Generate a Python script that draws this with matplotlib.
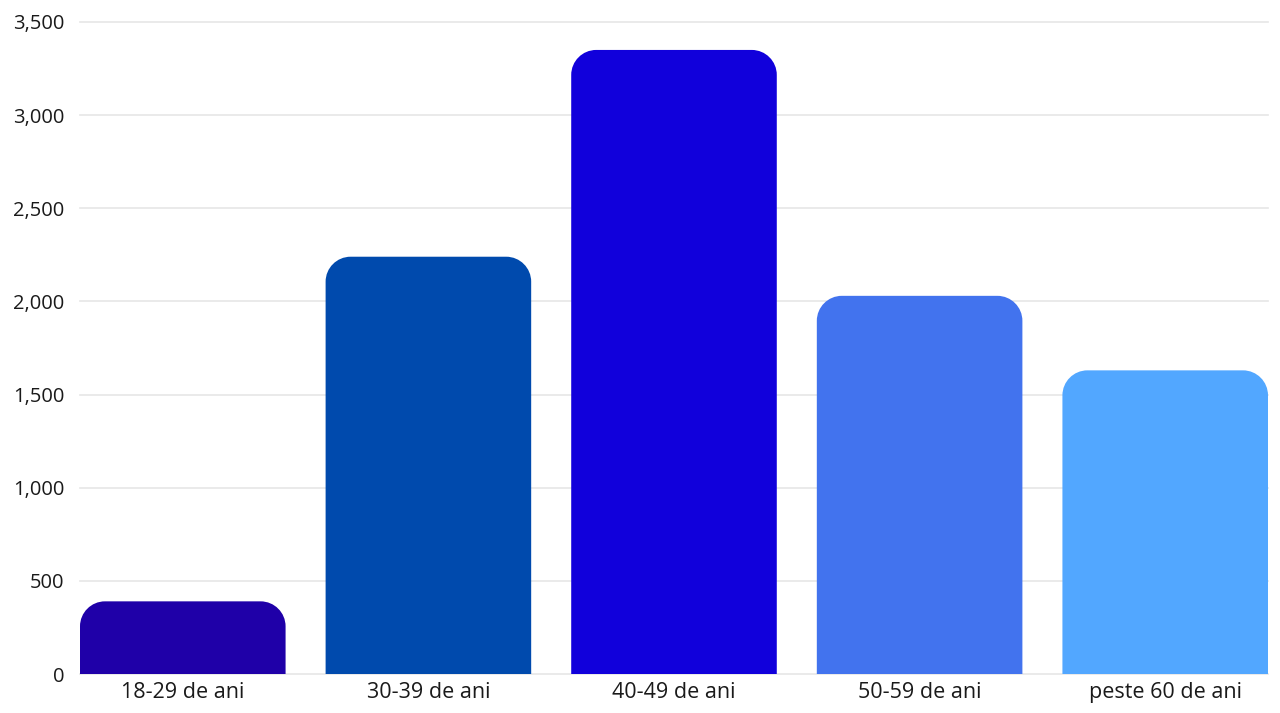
import numpy as np
import matplotlib.pyplot as plt
from matplotlib.path import Path
from matplotlib.patches import PathPatch

# Data
categories = ['18-29 de ani', '30-39 de ani', '40-49 de ani', '50-59 de ani', 'peste 60 de ani']
values = [390, 2240, 3350, 2030, 1630]
colors = ['#1F00A8', '#004AAD', '#1100DB', '#4273EE', '#52A7FF']

plt.rcParams['font.family'] = ['Open Sans', 'DejaVu Sans']

fig = plt.figure(figsize=(12.8, 7.13), dpi=100)
ax = fig.add_axes([80 / 1280, 1 - 674 / 713, 1188 / 1280, 652 / 713])

width = 0.837
x = np.arange(len(categories))
bars = ax.bar(x, values, width=width, color='none', zorder=3)

ax.set_xlim(-width / 2, len(categories) - 1 + width / 2)
ax.set_ylim(0, 3500)
ax.set_yticks(np.arange(0, 3501, 500))
ax.set_yticklabels(['{:,}'.format(v) for v in range(0, 3501, 500)])
ax.set_xticks(x)
ax.set_xticklabels(categories)

for s in ax.spines.values():
    s.set_visible(False)
ax.tick_params(axis='both', length=0, colors='#1a1a1a')
ax.tick_params(axis='y', pad=11, labelsize=14.5)
ax.tick_params(axis='x', pad=6, labelsize=15.5)
ax.grid(axis='y', color='#e6e6e6', linewidth=1.2, zorder=0)
for gl in ax.get_ygridlines():
    gl.set_clip_on(False)
ax.set_axisbelow(True)

# rounded top corners, radius in pixels converted to data units
fig.canvas.draw()
radius_px = 25
origin = ax.transData.transform((0, 0))
inv = ax.transData.inverted()
rx = inv.transform((origin[0] + radius_px, origin[1]))[0] - inv.transform(origin)[0]
ry = inv.transform((origin[0], origin[1] + radius_px))[1] - inv.transform(origin)[1]
k = 0.5523

for b, c in zip(bars, colors):
    x0 = b.get_x()
    x1 = x0 + b.get_width()
    h = b.get_height()
    verts = [
        (x0, 0), (x0, h - ry),
        (x0, h - ry + k * ry), (x0 + rx - k * rx, h), (x0 + rx, h),
        (x1 - rx, h),
        (x1 - rx + k * rx, h), (x1, h - ry + k * ry), (x1, h - ry),
        (x1, 0), (x0, 0),
    ]
    codes = [Path.MOVETO, Path.LINETO,
             Path.CURVE4, Path.CURVE4, Path.CURVE4,
             Path.LINETO,
             Path.CURVE4, Path.CURVE4, Path.CURVE4,
             Path.LINETO, Path.CLOSEPOLY]
    ax.add_patch(PathPatch(Path(verts, codes), facecolor=c, edgecolor='none', zorder=3))

fig.savefig('out.png', dpi=100)
